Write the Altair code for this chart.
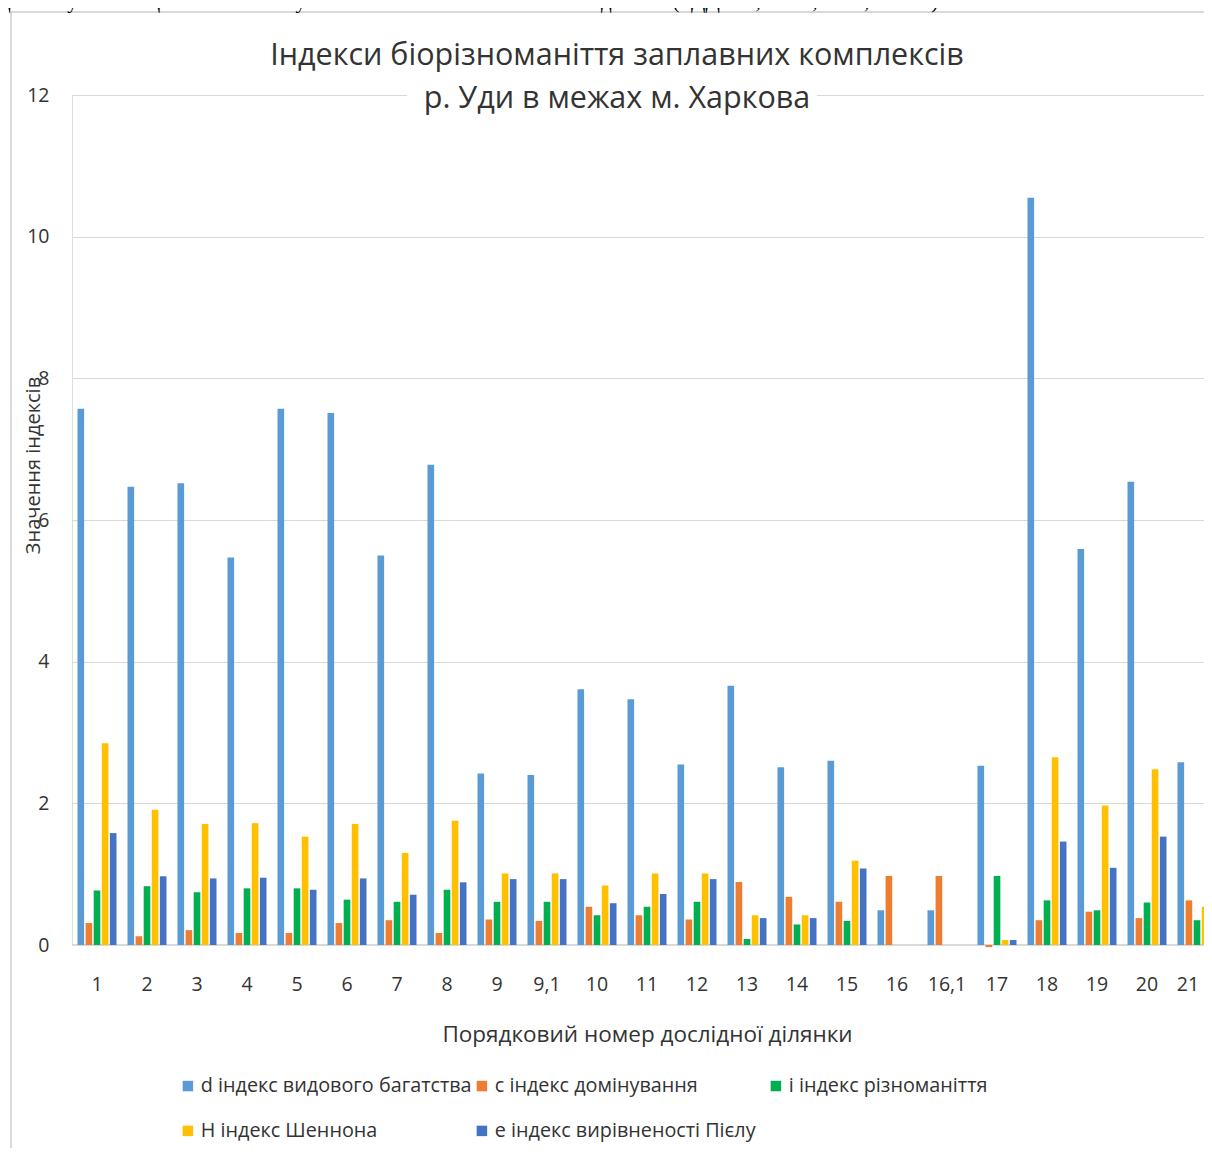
import altair as alt
import pandas as pd

categories = ["1", "2", "3", "4", "5", "6", "7", "8", "9", "9,1", "10", "11", "12",
              "13", "14", "15", "16", "16,1", "17", "18", "19", "20", "21"]

series = ["d індекс видового багатства", "c індекс домінування", "i індекс різноманіття",
          "H індекс Шеннона", "e індекс вирівненості Пієлу"]
colors = ["#5B9BD5", "#ED7D31", "#00B050", "#FFC000", "#4472C4"]

d_vals = [7.57, 6.47, 6.52, 5.47, 7.57, 7.51, 5.50, 6.78, 2.42, 2.40, 3.61, 3.47, 2.55,
          3.66, 2.51, 2.60, 0.49, 0.49, 2.53, 10.55, 5.59, 6.54, 2.58]
c_vals = [0.31, 0.125, 0.21, 0.17, 0.17, 0.31, 0.35, 0.17, 0.36, 0.34, 0.54, 0.42, 0.36,
          0.89, 0.68, 0.61, 0.975, 0.975, -0.03, 0.35, 0.47, 0.38, 0.63]
i_vals = [0.77, 0.83, 0.745, 0.80, 0.80, 0.64, 0.61, 0.78, 0.61, 0.61, 0.42, 0.54, 0.61,
          0.085, 0.29, 0.34, 0.0, 0.0, 0.975, 0.63, 0.49, 0.60, 0.35]
h_vals = [2.85, 1.91, 1.71, 1.72, 1.53, 1.71, 1.30, 1.755, 1.01, 1.01, 0.84, 1.01, 1.01,
          0.42, 0.42, 1.19, 0.0, 0.0, 0.07, 2.65, 1.97, 2.48, 0.54]
e_vals = [1.58, 0.97, 0.94, 0.95, 0.78, 0.94, 0.71, 0.885, 0.93, 0.93, 0.59, 0.72, 0.93,
          0.38, 0.38, 1.08, 0.0, 0.0, 0.07, 1.46, 1.09, 1.53, 0.49]

y_ticks = [0, 2, 4, 6, 8, 10, 12]

title_lines = ["Індекси біорізноманіття заплавних комплексів", "р. Уди в межах м. Харкова"]
x_title = "Порядковий номер дослідної ділянки"
y_title = "Значення індексів"
doc_text_left = "дення кульбаби щітки частої та кульбаб"
doc_text_right = "дження (ТДД №9, №9.1, №16, №16.1)."

rows = []
for s, vals in zip(series, [d_vals, c_vals, i_vals, h_vals, e_vals]):
    for cat, v in zip(categories, vals):
        rows.append({"cat": cat, "series": s, "value": v})
df = pd.DataFrame(rows)

FONT = "Open Sans"
TXT = "#333333"

x_scale = alt.Scale(domain=categories, paddingInner=0.22, paddingOuter=0.11)
y_scale = alt.Scale(domain=[0, 12], nice=False)

bars = alt.Chart(df).mark_bar().encode(
    x=alt.X("cat:N", scale=x_scale, sort=categories,
            axis=alt.Axis(title=x_title, labelAngle=0, domain=False, ticks=False,
                          labelPadding=30, labelFontSize=19.5, labelFont=FONT, labelColor=TXT,
                          labelOffset={"condition": {"test": "datum.label == '21'", "value": -9},
                                       "value": 0},
                          titleFont=FONT, titleFontSize=22.5, titleFontWeight="normal",
                          titleColor=TXT, titleX=575, titleY=89, titleAlign="center",
                          titleBaseline="middle")),
    xOffset=alt.XOffset("series:N", sort=series, scale=alt.Scale(domain=series, paddingInner=0.18)),
    y=alt.Y("value:Q", scale=y_scale,
            axis=alt.Axis(values=y_ticks, format="d", grid=True, gridColor="#d9d9d9", domain=False,
                          ticks=False, labelPadding=23, labelFontSize=19.5, labelFont=FONT,
                          labelColor=TXT, title=y_title, titleFont=FONT, titleFontSize=20,
                          titleFontWeight="normal", titleColor=TXT, titleX=-39, titleY=370,
                          titleAngle=270, titleAlign="center", titleBaseline="middle")),
    color=alt.Color("series:N", sort=series, scale=alt.Scale(domain=series, range=colors),
                    legend=alt.Legend(orient="none", legendX=106, legendY=981,
                                      direction="horizontal", columns=3, title=None,
                                      symbolType="square", symbolSize=110, symbolStrokeWidth=0,
                                      labelFontSize=19.8, labelFont=FONT, labelColor=TXT,
                                      labelLimit=500, columnPadding=0, rowPadding=24,
                                      gridAlign="all", labelOffset=3)),
)

baseline = alt.Chart(pd.DataFrame({"v": [0]})).mark_rule(color="#d9d9d9", strokeWidth=2).encode(
    y=alt.Y("v:Q", scale=y_scale)
)

deco = pd.DataFrame({"k": [0]})
frame_v = alt.Chart(deco).mark_rule(color="#d9d9d9", strokeWidth=2).encode(
    x=alt.value(-61), y=alt.value(-83), y2=alt.value(1070))
frame_h = alt.Chart(deco).mark_rule(color="#d9d9d9", strokeWidth=2).encode(
    x=alt.value(-61), x2=alt.value(1160), y=alt.value(-83))
mask = alt.Chart(deco).mark_rect(color="white").encode(
    x=alt.value(335), x2=alt.value(745), y=alt.value(-3), y2=alt.value(3))
doc_l = alt.Chart(deco).mark_text(font="Liberation Serif", fontSize=21, align="left",
                                  baseline="alphabetic", color="#000000", text=doc_text_left).encode(
    x=alt.value(-72), y=alt.value(-87))
doc_r = alt.Chart(deco).mark_text(font="Liberation Serif", fontSize=21, align="left",
                                  baseline="alphabetic", color="#000000", text=doc_text_right).encode(
    x=alt.value(529), y=alt.value(-87))
title1 = alt.Chart(deco).mark_text(font=FONT, fontSize=30.5, align="center", baseline="middle",
                                   color=TXT, text=title_lines[0]).encode(
    x=alt.value(545), y=alt.value(-39))
title2 = alt.Chart(deco).mark_text(font=FONT, fontSize=30.5, align="center", baseline="middle",
                                   color=TXT, text=title_lines[1]).encode(
    x=alt.value(545), y=alt.value(4))

chart = alt.layer(baseline, bars, frame_v, frame_h, mask, title1, title2, doc_l, doc_r).properties(
    width=1150, height=850,
    autosize=alt.AutoSizeParams(type="none"),
    padding={"left": 64, "top": 87, "right": -18, "bottom": 203},
).configure_view(stroke=None).configure(background="white")

chart.save("out.html", embed_options={"renderer": "svg", "actions": False})
